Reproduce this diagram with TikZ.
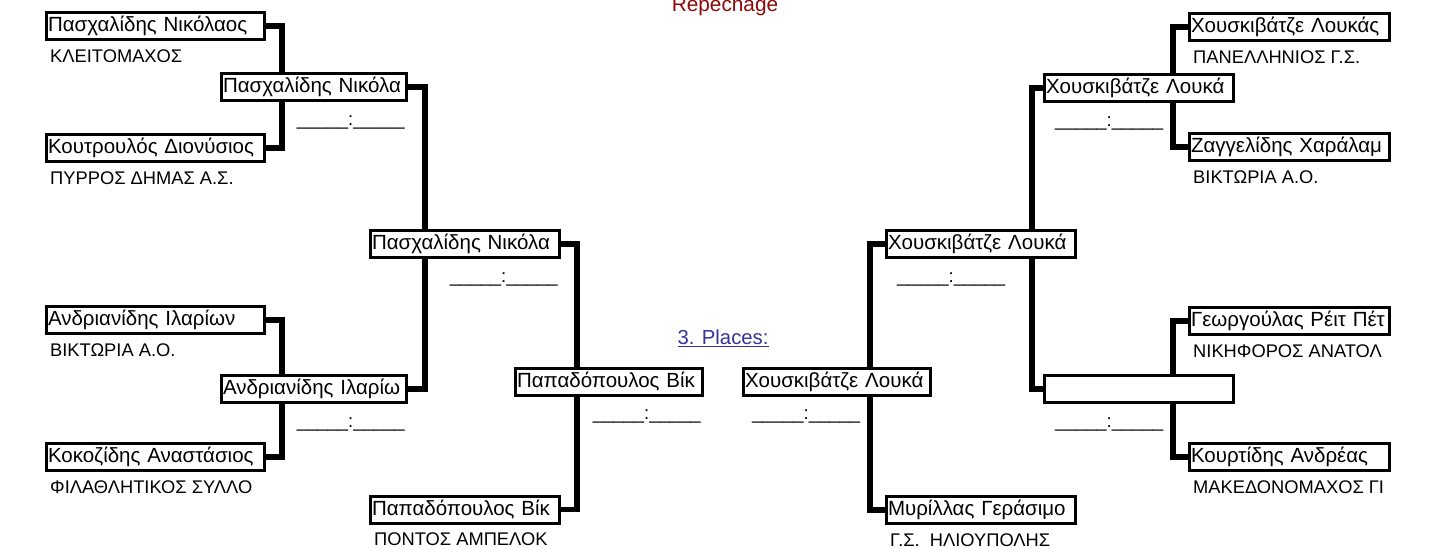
\documentclass[tikz,border=0pt]{standalone}
\usepackage{fontspec}
\setmainfont{Liberation Sans}
\usetikzlibrary{backgrounds}
\definecolor{repechagered}{RGB}{140,10,10}
\definecolor{placesblue}{RGB}{51,51,153}

\begin{document}
\begin{tikzpicture}[x=1pt, y=-1pt,
  player/.style={draw, line width=3pt, fill=white, anchor=west, align=left,
    inner xsep=1.5pt, inner ysep=0pt, minimum height=27pt,
    font=\fontsize{20.5}{22}\selectfont},
  club/.style={anchor=base west, inner sep=0pt, font=\fontsize{18.3}{20}\selectfont},
  score/.style={inner sep=0pt, font=\fontsize{18.5}{20}\selectfont},
  link/.style={line width=5.5pt, line join=miter}]
\useasboundingbox (0,0) rectangle (1442,547);

\node[anchor=base, text=repechagered, font=\fontsize{20.8}{22}\selectfont] (rep) at (725,11) {Repechage};
\node[text=placesblue, font=\fontsize{20.3}{22}\selectfont] (places) at (723,338) {\underline{3. Places:}};

\node[player, text width=215pt] (L1a) at (45,26) {Πασχαλίδης Νικόλαος};
\node[player, text width=215pt] (L1b) at (45,148) {Κουτρουλός Διονύσιος};
\node[player, text width=215pt] (L1c) at (45,320) {Ανδριανίδης Ιλαρίων};
\node[player, text width=215pt] (L1d) at (45,457) {Κοκοζίδης Αναστάσιος};
\node[player, text width=182pt] (L2a) at (220,87) {Πασχαλίδης Νικόλα};
\node[player, text width=182pt] (L2b) at (220,389) {Ανδριανίδης Ιλαρίω};
\node[player, text width=186pt] (L3a) at (369,244) {Πασχαλίδης Νικόλα};
\node[player, text width=186pt] (L3b) at (369,509.5) {Παπαδόπουλος Βίκ};
\node[player, text width=184pt] (L4) at (514,381.5) {Παπαδόπουλος Βίκ};

\node[player, text width=184pt] (R4) at (742,381.5) {Χουσκιβάτζε Λουκά};
\node[player, text width=186pt] (R3a) at (885,244) {Χουσκιβάτζε Λουκά};
\node[player, text width=186pt] (R3b) at (885,510) {Μυρίλλας Γεράσιμο};
\node[player, text width=186pt] (R2a) at (1043,88) {Χουσκιβάτζε Λουκά};
\node[player, text width=186pt] (R2b) at (1043,389) {};
\node[player, text width=197pt] (R1a) at (1188,27) {Χουσκιβάτζε Λουκάς};
\node[player, text width=197pt] (R1b) at (1188,147) {Ζαγγελίδης Χαράλαμ};
\node[player, text width=197pt] (R1c) at (1188,321) {Γεωργούλας Ρέιτ Πέτ};
\node[player, text width=197pt] (R1d) at (1188,457) {Κουρτίδης Ανδρέας};

\node[club] (cL1a) at ([xshift=5pt, yshift=-21pt]L1a.south west) {ΚΛΕΙΤΟΜΑΧΟΣ};
\node[club] (cL1b) at ([xshift=5pt, yshift=-21pt]L1b.south west) {ΠΥΡΡΟΣ ΔΗΜΑΣ Α.Σ.};
\node[club] (cL1c) at ([xshift=5pt, yshift=-21pt]L1c.south west) {ΒΙΚΤΩΡΙΑ Α.Ο.};
\node[club] (cL1d) at ([xshift=5pt, yshift=-21pt]L1d.south west) {ΦΙΛΑΘΛΗΤΙΚΟΣ ΣΥΛΛΟ};
\node[club] (cL3b) at ([xshift=5pt, yshift=-21pt]L3b.south west) {ΠΟΝΤΟΣ ΑΜΠΕΛΟΚ};
\node[club] (cR3b) at ([xshift=5pt, yshift=-21pt]R3b.south west) {Γ.Σ.\ \ ΗΛΙΟΥΠΟΛΗΣ};
\node[club] (cR1a) at ([xshift=5pt, yshift=-21pt]R1a.south west) {ΠΑΝΕΛΛΗΝΙΟΣ Γ.Σ.};
\node[club] (cR1b) at ([xshift=5pt, yshift=-21pt]R1b.south west) {ΒΙΚΤΩΡΙΑ Α.Ο.};
\node[club] (cR1c) at ([xshift=5pt, yshift=-21pt]R1c.south west) {ΝΙΚΗΦΟΡΟΣ ΑΝΑΤΟΛ};
\node[club] (cR1d) at ([xshift=5pt, yshift=-21pt]R1d.south west) {ΜΑΚΕΔΟΝΟΜΑΧΟΣ ΓΙ};

\node[score, anchor=base east] (sL2a) at ([xshift=-3pt, yshift=-23pt]L2a.south east) {\_\_\_\_\_:\_\_\_\_\_};
\node[score, anchor=base east] (sL2b) at ([xshift=-3pt, yshift=-23pt]L2b.south east) {\_\_\_\_\_:\_\_\_\_\_};
\node[score, anchor=base east] (sL3a) at ([xshift=-3pt, yshift=-23pt]L3a.south east) {\_\_\_\_\_:\_\_\_\_\_};
\node[score, anchor=base east] (sL4) at ([xshift=-3pt, yshift=-23pt]L4.south east) {\_\_\_\_\_:\_\_\_\_\_};
\node[score, anchor=base west] (sR4) at ([xshift=10pt, yshift=-23pt]R4.south west) {\_\_\_\_\_:\_\_\_\_\_};
\node[score, anchor=base west] (sR3a) at ([xshift=12pt, yshift=-23pt]R3a.south west) {\_\_\_\_\_:\_\_\_\_\_};
\node[score, anchor=base west] (sR2a) at ([xshift=12pt, yshift=-23pt]R2a.south west) {\_\_\_\_\_:\_\_\_\_\_};
\node[score, anchor=base west] (sR2b) at ([xshift=12pt, yshift=-23pt]R2b.south west) {\_\_\_\_\_:\_\_\_\_\_};

\begin{scope}[on background layer]
\draw[link] (L1a.east) -- ++(16,0) |- (L1b.east);
\draw[link] (L1c.east) -- ++(16,0) |- (L1d.east);
\draw[link] (L2a.east) -- ++(17,0) |- (L2b.east);
\draw[link] (L3a.east) -- ++(16,0) |- (L3b.east);
\draw[link] (R1a.west) -- ++(-15,0) |- (R1b.west);
\draw[link] (R1c.west) -- ++(-15,0) |- (R1d.west);
\draw[link] (R2a.west) -- ++(-11,0) |- (R2b.west);
\draw[link] (R3a.west) -- ++(-15,0) |- (R3b.west);
\end{scope}

\end{tikzpicture}
\end{document}
